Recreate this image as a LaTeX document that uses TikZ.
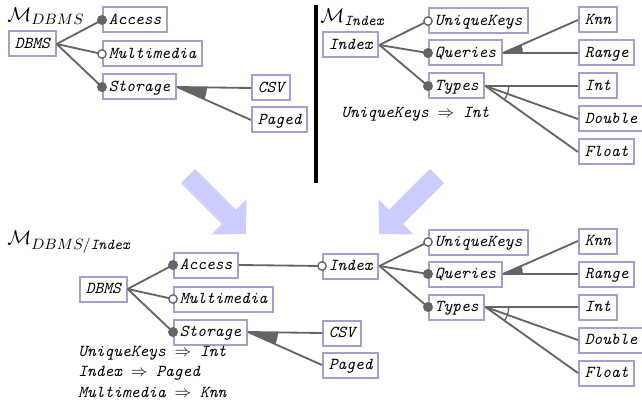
\documentclass[tikz,border=0pt]{standalone}
\usepackage{amsmath}
\usetikzlibrary{arrows.meta,calc}
\definecolor{boxcol}{RGB}{160,160,210}
\definecolor{edgecol}{RGB}{100,100,100}
\definecolor{bigcol}{RGB}{204,204,255}
\tikzset{
    feat/.style={draw=boxcol, line width=1.2pt, fill=white, font=\ttfamily\itshape,
        text height=7pt, text depth=2pt, inner xsep=3.5pt, inner ysep=3pt, anchor=west}, % 特征框
    link/.style={draw=edgecol, line width=1.1pt}, % 父子连线
    mand/.style={fill=edgecol}, % 必选
    opt/.style={draw=edgecol, fill=white, line width=0.8pt}, % 可选
    big arrow/.style={draw=bigcol, line width=12pt, -{Triangle[length=14.5pt, width=29pt]}},
    rule/.style={font=\ttfamily\itshape, anchor=west, inner sep=0pt},
    title/.style={font=\large, anchor=west, inner sep=0pt}
}
% or 组: 实心扇形
\newcommand{\orwedge}[4]{%
  \fill[edgecol] let \p1=($(#2.west)-(#1.east)$), \p2=($(#3.west)-(#1.east)$),
      \n1={atan2(\y1,\x1)}, \n2={atan2(\y2,\x2)} in
      (#1.east) -- ++(\n1:#4) arc[start angle=\n1, end angle=\n2, radius=#4] -- cycle;}
% alternative 组: 空心弧
\newcommand{\altarc}[4]{%
  \draw[edgecol, line width=0.8pt] let \p1=($(#2.west)-(#1.east)$), \p2=($(#3.west)-(#1.east)$),
      \n1={atan2(\y1,\x1)}, \n2={atan2(\y2,\x2)} in
      ($(#1.east)+(\n1:#4)$) arc[start angle=\n1, end angle=\n2, radius=#4];}

\begin{document}
\begin{tikzpicture}[x=0.6pt, y=-0.6pt]
    \useasboundingbox (0,0) rectangle (642,410);

    \node[title] (ta) at (7,16) {$\mathcal{M}_{\mbox{\small$DBMS$}}$};
    \node[title] (tb) at (320,17) {$\mathcal{M}_{\mbox{\small\ttfamily\itshape Index}}$};
    \node[title] (tc) at (7,242) {$\mathcal{M}_{\mbox{\small$DBMS/$\ttfamily\itshape Index}}$};

    \draw[line width=2.4pt] (316,5) -- (316,183);

    % DBMS 树
    \foreach \pre/\dx/\dy in {a/0/0, b/71/245} {
        \begin{scope}[shift={(\dx,\dy)}]
            \node[feat] (dbms\pre) at (8,44) {DBMS};
            \node[feat] (acc\pre) at (102,20) {Access};
            \node[feat] (mm\pre) at (102,54) {Multimedia};
            \node[feat] (st\pre) at (102,87) {Storage};
            \node[feat] (csv\pre) at (251,88) {CSV};
            \node[feat] (pg\pre) at (251,120) {Paged};
        \end{scope}
        \foreach \c in {acc,mm,st}
            \draw[link] (dbms\pre.east) -- (\c\pre.west);
        \draw[link] (st\pre.east) -- (csv\pre.west);
        \draw[link] (st\pre.east) -- (pg\pre.west);
        \orwedge{st\pre}{csv\pre}{pg\pre}{18pt}
        \fill[mand] (acc\pre.west) circle (3pt);
        \filldraw[opt] (mm\pre.west) circle (2.5pt);
        \fill[mand] (st\pre.west) circle (3pt);
    }

    % Index 树
    \foreach \pre/\dy in {a/0, b/221} {
        \begin{scope}[shift={(0,\dy)}]
            \node[feat] (idx\pre) at (322,45) {Index};
            \node[feat] (uk\pre) at (428,21) {UniqueKeys};
            \node[feat] (qu\pre) at (428,53) {Queries};
            \node[feat] (ty\pre) at (428,86) {Types};
            \node[feat] (knn\pre) at (578,20) {Knn};
            \node[feat] (rg\pre) at (578,53) {Range};
            \node[feat] (int\pre) at (578,86) {Int};
            \node[feat] (dbl\pre) at (578,119) {Double};
            \node[feat] (flt\pre) at (578,152) {Float};
        \end{scope}
        \foreach \c in {uk,qu,ty}
            \draw[link] (idx\pre.east) -- (\c\pre.west);
        \foreach \c in {knn,rg}
            \draw[link] (qu\pre.east) -- (\c\pre.west);
        \foreach \c in {int,dbl,flt}
            \draw[link] (ty\pre.east) -- (\c\pre.west);
        \orwedge{qu\pre}{knn\pre}{rg\pre}{12pt}
        \altarc{ty\pre}{int\pre}{flt\pre}{14pt}
        \filldraw[opt] (uk\pre.west) circle (2.5pt);
        \fill[mand] (qu\pre.west) circle (3pt);
        \fill[mand] (ty\pre.west) circle (3pt);
    }

    \draw[link] (accb.east) -- (idxb.west);
    \filldraw[opt] (idxb.west) circle (2.5pt);

    \node[rule] (ra) at (341,114) {UniqueKeys $\Rightarrow$ Int};
    \foreach \i/\txt/\yy in {1/{UniqueKeys $\Rightarrow$ Int}/353,
                             2/{Index $\Rightarrow$ Paged}/373,
                             3/{Multimedia $\Rightarrow$ Knn}/392}
        \node[rule] (rb\i) at (78,\yy) {\txt};

    % 合并箭头
    \coordinate (la) at (188,176);
    \coordinate (lb) at (246,234);
    \coordinate (ra1) at (437,176);
    \coordinate (rb1) at (379,234);
    \draw[big arrow] (la) -- (lb);
    \draw[big arrow] (ra1) -- (rb1);
\end{tikzpicture}
\end{document}
